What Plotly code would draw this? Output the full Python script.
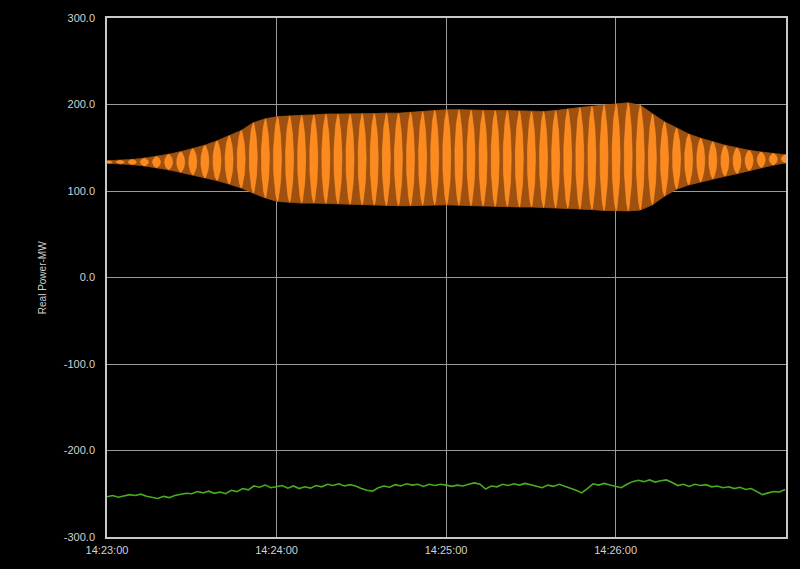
import numpy as np
import plotly.graph_objects as go

# ---------------- data ----------------
# time axis: seconds after 14:23:00
X_TICK_SECONDS = [0, 60, 120, 180]
X_TICK_LABELS = ["14:23:00", "14:24:00", "14:25:00", "14:26:00"]
Y_TICKS = [-300, -200, -100, 0, 100, 200, 300]
Y_TICK_LABELS = ["-300.0", "-200.0", "-100.0", "0.0", "100.0", "200.0", "300.0"]

# oscillation (orange): one entry per oscillation lobe
OSC_FIRST_S = 0.4
OSC_PERIOD_S = 4.28
OSC_UPPER = [135, 135.5, 136.5, 138, 140, 142.5, 145.5, 149, 153, 158,
             164, 170, 179, 183.5, 186, 187, 187.5, 188, 189, 189,
             189, 189.5, 189.5, 190, 190, 191, 192, 193.5, 194, 194,
             193.5, 193, 193, 193, 192.5, 192, 192, 193, 195, 196.5,
             198, 199.5, 201, 202, 199, 189, 180, 173, 166, 161,
             157, 153, 150, 147, 145, 143.5, 142]
OSC_LOWER = [132, 131.5, 130.5, 129, 127, 124.5, 121.5, 118.5, 115, 112,
             108, 103.5, 97.5, 92, 88, 87, 86, 86, 85.5, 85,
             84.5, 84, 83.5, 83, 83, 83, 83.5, 84, 84, 83.5,
             83, 82.5, 82, 82, 81.5, 81.5, 81, 80.5, 80, 79,
             78.5, 77.5, 77, 77, 78, 84, 94, 102, 107, 110.5,
             114, 117, 120, 123.5, 127, 130, 132.5]

# second unit (green), sampled every 2 s
GREEN_STEP_S = 2
GREEN_MW = [-253.5, -252, -254, -252.5, -251, -252, -250.5, -253, -254.5, -255.5,
            -253, -254.5, -252, -251, -249.5, -250, -247.5, -249, -247, -249.5,
            -248, -250, -246, -247.5, -244, -245.5, -241, -242.5, -240, -243,
            -242, -240.5, -243.5, -241, -244, -242, -243.5, -240.5, -242, -239,
            -240.5, -238.5, -241, -239.5, -241, -244, -246, -247, -243, -241,
            -242.5, -239.5, -241, -238.5, -240, -239, -241.5, -239, -240.5, -239,
            -240, -241.5, -240, -241, -239, -237.5, -239, -244.5, -241, -242,
            -239, -240.5, -238.5, -240, -238, -239.5, -241, -243, -240, -241.5,
            -239, -241, -243.5, -246, -249, -244, -238.5, -240, -238, -240,
            -241.5, -243, -239, -236, -234.5, -236, -234, -236.5, -235, -234,
            -237, -240.5, -239, -241.5, -239, -240.5, -239.5, -242, -241, -243,
            -242, -244, -242.5, -245, -244, -248, -251, -249, -247.5, -248,
            -245]

# ---------------- derived geometry ----------------
osc_t = OSC_FIRST_S + OSC_PERIOD_S * np.arange(len(OSC_UPPER))
up = np.array(OSC_UPPER, dtype=float)
lo = np.array(OSC_LOWER, dtype=float)
green_t = GREEN_STEP_S * np.arange(len(GREEN_MW))

# bright lobes: pointed lens from trough to peak at each lobe centre
half_w = 0.33 * OSC_PERIOD_S
s = np.linspace(0, 1, 31)
lx, ly = [], []
for tc, u, l in zip(osc_t, up, lo):
    w = half_w * np.sin(np.pi * s) ** 0.65
    yy = l + (u - l) * s
    lx += list(tc - w) + list((tc + w)[::-1]) + [None]
    ly += list(yy) + list(yy[::-1]) + [None]

band = "rgb(160,80,14)"
fig = go.Figure()
fig.add_trace(go.Scatter(x=osc_t, y=up, mode="lines",
                         line=dict(color=band, width=0.8),
                         hoverinfo="skip", showlegend=False))
fig.add_trace(go.Scatter(x=osc_t, y=lo, mode="lines", fill="tonexty",
                         fillcolor=band, line=dict(color=band, width=0.8),
                         hoverinfo="skip", showlegend=False))
fig.add_trace(go.Scatter(x=lx, y=ly, mode="lines", fill="toself",
                         fillcolor="rgb(252,138,30)",
                         line=dict(color="rgb(255,152,45)", width=0.6),
                         hoverinfo="skip", showlegend=False))
fig.add_trace(go.Scatter(x=green_t, y=GREEN_MW, mode="lines",
                         line=dict(color="rgb(72,172,34)", width=1.6),
                         hoverinfo="skip", showlegend=False))

axis_font = dict(family="Liberation Sans, Arial, sans-serif", size=11, color="#d2d2d2")
fig.update_layout(
    width=800, height=569,
    margin=dict(l=107, r=12, t=18, b=32),
    paper_bgcolor="black", plot_bgcolor="black",
    showlegend=False,
    xaxis=dict(range=[0, 240.3], tickvals=X_TICK_SECONDS, ticktext=X_TICK_LABELS,
               showgrid=True, gridcolor="#9a9a9a", gridwidth=1,
               showline=True, linecolor="#c8c8c8", linewidth=1.5, mirror=True,
               zeroline=False, ticks="", tickfont=axis_font, ticklabelstandoff=2),
    yaxis=dict(range=[-300, 300], tickvals=Y_TICKS, ticktext=Y_TICK_LABELS,
               showgrid=True, gridcolor="#9a9a9a", gridwidth=1,
               showline=True, linecolor="#c8c8c8", linewidth=1.5, mirror=True,
               zeroline=False, ticks="", tickfont=axis_font, ticklabelstandoff=8),
    annotations=[dict(text="Real Power-MW", xref="paper", yref="paper",
                      x=(35 - 107) / 681, y=0.5, textangle=-90, showarrow=False,
                      font=dict(family="Liberation Sans, Arial, sans-serif",
                                size=10, color="#cfcfcf"))],
)

fig.write_html("out.html")
